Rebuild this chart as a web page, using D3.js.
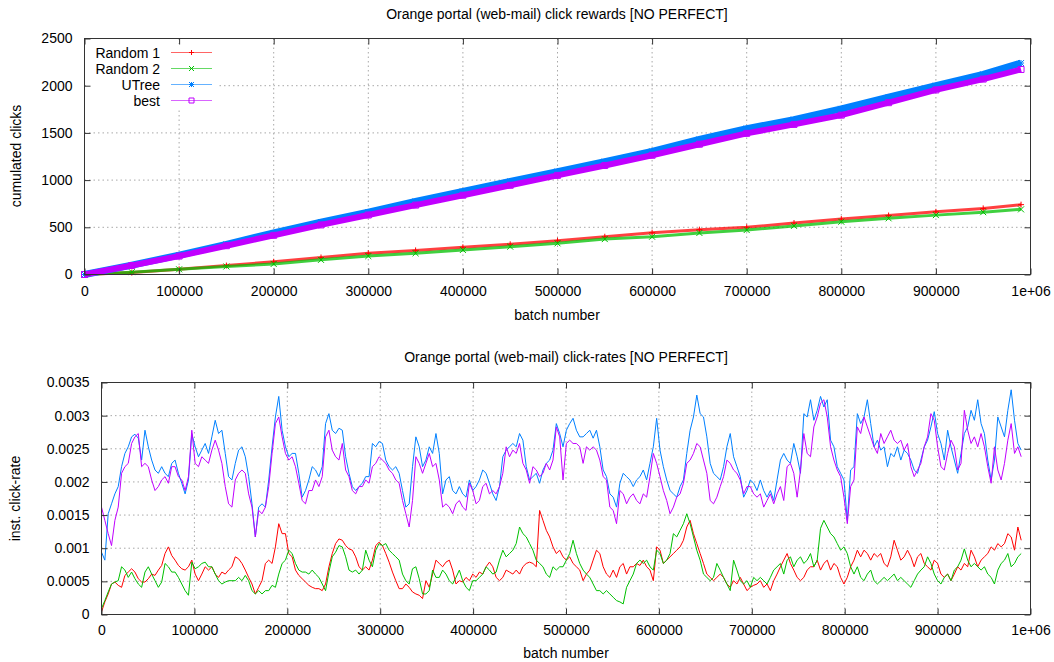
<!DOCTYPE html>
<html><head><meta charset="utf-8">
<script src="https://cdn.jsdelivr.net/npm/d3@7"></script>
<style>
body{margin:0;background:#fff}
svg{display:block}
text{font-family:"Liberation Sans",Arial,sans-serif;fill:#000}
</style>
</head><body>
<svg id="chart" width="1054" height="662"></svg>
<script>
// ---------- DATA ----------
const seriesNames = ["Random 1", "Random 2", "UTree", "best"];
const seriesColors = ["#ff0000", "#00c000", "#0080ff", "#c000ff"];
const xTickValues = [0,100000,200000,300000,400000,500000,600000,700000,800000,900000,1000000];
const xTickLabels = ["0","100000","200000","300000","400000","500000","600000","700000","800000","900000","1e+06"];
const cumTickValues = [0,500,1000,1500,2000,2500];
const cumTickLabels = ["0","500","1000","1500","2000","2500"];
const rateTickValues = [0,0.0005,0.001,0.0015,0.002,0.0025,0.003,0.0035];
const rateTickLabels = ["0","0.0005","0.001","0.0015","0.002","0.0025","0.003","0.0035"];

// cumulated clicks (top panel)
const cumBatch = [0,50000,100000,150000,200000,250000,300000,350000,400000,450000,500000,550000,600000,650000,700000,750000,800000,850000,900000,950000,990000];
const random1Cum = [0,20,55,95,135,180,225,255,288,320,358,400,443,475,500,545,587,625,664,700,740];
const random2Cum = [0,25,55,85,112,155,195,225,260,295,330,375,400,440,471,515,559,595,629,660,690];
const utreeCum = [0,100,205,320,440,555,660,775,880,985,1090,1195,1305,1430,1545,1640,1755,1880,2000,2120,2240];
const bestCum = [0,95,195,305,415,525,630,735,840,945,1050,1155,1263,1380,1495,1590,1688,1820,1955,2070,2172];

// instantaneous click-rates (bottom panel), sampled every 3600 batches from 0 to 990000
const rateBatch = d3.range(0, 990001, 3600);
const random1Rate = [4e-5,19e-5,31e-5,46e-5,49e-5,44e-5,41e-5,59e-5,64e-5,69e-5,64e-5,54e-5,49e-5,49e-5,54e-5,61e-5,59e-5,67e-5,74e-5,92e-5,102e-5,89e-5,82e-5,74e-5,69e-5,67e-5,72e-5,82e-5,61e-5,51e-5,61e-5,72e-5,67e-5,72e-5,61e-5,56e-5,64e-5,61e-5,67e-5,72e-5,87e-5,84e-5,77e-5,67e-5,56e-5,46e-5,31e-5,41e-5,51e-5,77e-5,82e-5,77e-5,102e-5,137e-5,122e-5,122e-5,92e-5,87e-5,67e-5,59e-5,54e-5,49e-5,44e-5,41e-5,39e-5,39e-5,36e-5,46e-5,72e-5,92e-5,107e-5,114e-5,112e-5,104e-5,99e-5,97e-5,87e-5,72e-5,67e-5,72e-5,67e-5,82e-5,104e-5,109e-5,104e-5,92e-5,79e-5,64e-5,51e-5,39e-5,39e-5,46e-5,41e-5,34e-5,31e-5,29e-5,
24e-5,51e-5,41e-5,61e-5,82e-5,77e-5,72e-5,79e-5,82e-5,67e-5,46e-5,51e-5,49e-5,56e-5,51e-5,61e-5,56e-5,64e-5,61e-5,72e-5,79e-5,72e-5,56e-5,51e-5,56e-5,67e-5,64e-5,61e-5,67e-5,61e-5,72e-5,77e-5,79e-5,77e-5,72e-5,157e-5,142e-5,127e-5,117e-5,102e-5,92e-5,97e-5,87e-5,82e-5,87e-5,77e-5,72e-5,67e-5,51e-5,61e-5,67e-5,82e-5,97e-5,92e-5,72e-5,61e-5,56e-5,67e-5,56e-5,72e-5,77e-5,61e-5,72e-5,72e-5,77e-5,74e-5,82e-5,72e-5,67e-5,51e-5,102e-5,97e-5,77e-5,82e-5,87e-5,92e-5,97e-5,102e-5,112e-5,132e-5,142e-5,122e-5,107e-5,92e-5,77e-5,61e-5,56e-5,51e-5,56e-5,61e-5,56e-5,46e-5,41e-5,
51e-5,46e-5,56e-5,46e-5,36e-5,41e-5,44e-5,46e-5,51e-5,41e-5,46e-5,36e-5,51e-5,61e-5,72e-5,82e-5,92e-5,77e-5,67e-5,56e-5,51e-5,56e-5,67e-5,72e-5,72e-5,82e-5,67e-5,77e-5,82e-5,67e-5,77e-5,72e-5,56e-5,46e-5,56e-5,72e-5,82e-5,97e-5,87e-5,97e-5,92e-5,82e-5,92e-5,87e-5,92e-5,77e-5,72e-5,87e-5,112e-5,97e-5,82e-5,87e-5,97e-5,87e-5,72e-5,87e-5,92e-5,77e-5,72e-5,67e-5,82e-5,77e-5,61e-5,56e-5,61e-5,51e-5,61e-5,72e-5,67e-5,77e-5,72e-5,97e-5,87e-5,72e-5,82e-5,87e-5,92e-5,102e-5,97e-5,107e-5,102e-5,107e-5,122e-5,117e-5,97e-5,132e-5,112e-5];
const random2Rate = [9e-5,21e-5,34e-5,46e-5,49e-5,51e-5,72e-5,67e-5,56e-5,64e-5,54e-5,46e-5,41e-5,64e-5,72e-5,61e-5,51e-5,41e-5,49e-5,77e-5,72e-5,64e-5,64e-5,56e-5,46e-5,36e-5,29e-5,79e-5,69e-5,72e-5,77e-5,79e-5,72e-5,72e-5,61e-5,51e-5,46e-5,49e-5,51e-5,51e-5,51e-5,56e-5,51e-5,59e-5,51e-5,36e-5,31e-5,36e-5,31e-5,36e-5,36e-5,44e-5,41e-5,61e-5,77e-5,82e-5,97e-5,92e-5,77e-5,67e-5,64e-5,64e-5,61e-5,67e-5,61e-5,56e-5,46e-5,36e-5,64e-5,87e-5,94e-5,104e-5,102e-5,87e-5,67e-5,64e-5,67e-5,61e-5,67e-5,97e-5,82e-5,72e-5,97e-5,107e-5,104e-5,107e-5,97e-5,92e-5,87e-5,82e-5,61e-5,51e-5,46e-5,69e-5,72e-5,54e-5,
31e-5,31e-5,36e-5,67e-5,56e-5,56e-5,67e-5,61e-5,51e-5,46e-5,56e-5,67e-5,51e-5,41e-5,36e-5,51e-5,51e-5,56e-5,61e-5,72e-5,67e-5,61e-5,64e-5,82e-5,97e-5,87e-5,92e-5,97e-5,107e-5,132e-5,122e-5,117e-5,107e-5,97e-5,82e-5,77e-5,72e-5,61e-5,56e-5,72e-5,67e-5,72e-5,72e-5,82e-5,92e-5,112e-5,92e-5,77e-5,67e-5,61e-5,56e-5,46e-5,36e-5,36e-5,31e-5,36e-5,31e-5,26e-5,21e-5,19e-5,16e-5,41e-5,51e-5,61e-5,77e-5,82e-5,77e-5,82e-5,72e-5,67e-5,97e-5,92e-5,77e-5,82e-5,92e-5,122e-5,117e-5,127e-5,137e-5,152e-5,137e-5,117e-5,97e-5,82e-5,61e-5,56e-5,51e-5,56e-5,77e-5,67e-5,56e-5,46e-5,36e-5,
82e-5,67e-5,51e-5,46e-5,51e-5,41e-5,56e-5,51e-5,56e-5,51e-5,46e-5,56e-5,67e-5,72e-5,77e-5,61e-5,82e-5,87e-5,72e-5,82e-5,87e-5,77e-5,82e-5,92e-5,72e-5,82e-5,130e-5,142e-5,132e-5,122e-5,117e-5,107e-5,97e-5,102e-5,92e-5,72e-5,61e-5,72e-5,56e-5,51e-5,61e-5,67e-5,51e-5,46e-5,51e-5,56e-5,51e-5,56e-5,61e-5,51e-5,56e-5,51e-5,46e-5,41e-5,51e-5,61e-5,67e-5,72e-5,87e-5,77e-5,61e-5,51e-5,46e-5,56e-5,61e-5,51e-5,67e-5,72e-5,82e-5,99e-5,82e-5,72e-5,77e-5,72e-5,67e-5,72e-5,61e-5,56e-5,46e-5,67e-5,77e-5,82e-5,92e-5,72e-5,77e-5,87e-5,92e-5];
const utreeRate = [94e-5,82e-5,152e-5,167e-5,182e-5,193e-5,223e-5,243e-5,253e-5,268e-5,272e-5,266e-5,233e-5,278e-5,253e-5,233e-5,218e-5,213e-5,223e-5,213e-5,208e-5,228e-5,233e-5,213e-5,198e-5,182e-5,203e-5,273e-5,253e-5,238e-5,248e-5,258e-5,243e-5,268e-5,293e-5,273e-5,278e-5,243e-5,208e-5,203e-5,228e-5,248e-5,253e-5,238e-5,208e-5,167e-5,117e-5,162e-5,167e-5,162e-5,203e-5,253e-5,298e-5,329e-5,278e-5,253e-5,238e-5,243e-5,243e-5,213e-5,177e-5,187e-5,203e-5,223e-5,218e-5,208e-5,223e-5,288e-5,303e-5,278e-5,273e-5,281e-5,278e-5,238e-5,213e-5,193e-5,187e-5,193e-5,198e-5,208e-5,208e-5,258e-5,253e-5,261e-5,258e-5,233e-5,223e-5,218e-5,223e-5,213e-5,187e-5,162e-5,167e-5,223e-5,268e-5,253e-5,
223e-5,233e-5,253e-5,243e-5,273e-5,243e-5,182e-5,203e-5,208e-5,187e-5,182e-5,193e-5,182e-5,177e-5,203e-5,187e-5,193e-5,203e-5,218e-5,213e-5,198e-5,182e-5,172e-5,193e-5,238e-5,248e-5,253e-5,258e-5,253e-5,273e-5,263e-5,223e-5,203e-5,208e-5,213e-5,198e-5,218e-5,228e-5,233e-5,248e-5,288e-5,273e-5,253e-5,278e-5,288e-5,296e-5,278e-5,268e-5,268e-5,273e-5,278e-5,266e-5,278e-5,253e-5,218e-5,208e-5,182e-5,177e-5,162e-5,198e-5,213e-5,208e-5,203e-5,193e-5,203e-5,208e-5,218e-5,203e-5,228e-5,253e-5,296e-5,248e-5,223e-5,203e-5,187e-5,182e-5,177e-5,193e-5,203e-5,243e-5,278e-5,298e-5,331e-5,303e-5,298e-5,268e-5,228e-5,213e-5,208e-5,203e-5,223e-5,253e-5,273e-5,
238e-5,223e-5,208e-5,177e-5,187e-5,203e-5,198e-5,187e-5,203e-5,187e-5,177e-5,187e-5,172e-5,203e-5,233e-5,243e-5,233e-5,228e-5,258e-5,238e-5,213e-5,303e-5,298e-5,324e-5,293e-5,308e-5,329e-5,313e-5,324e-5,263e-5,253e-5,223e-5,213e-5,203e-5,142e-5,218e-5,223e-5,303e-5,288e-5,298e-5,324e-5,288e-5,253e-5,263e-5,248e-5,253e-5,223e-5,243e-5,238e-5,253e-5,233e-5,248e-5,243e-5,233e-5,218e-5,213e-5,233e-5,253e-5,263e-5,283e-5,306e-5,273e-5,258e-5,233e-5,278e-5,253e-5,233e-5,213e-5,243e-5,273e-5,283e-5,308e-5,293e-5,324e-5,288e-5,273e-5,233e-5,203e-5,233e-5,298e-5,283e-5,268e-5,308e-5,339e-5,293e-5,258e-5,248e-5];
const bestRate = [162e-5,142e-5,122e-5,104e-5,142e-5,162e-5,213e-5,223e-5,228e-5,258e-5,268e-5,273e-5,223e-5,228e-5,223e-5,203e-5,187e-5,193e-5,203e-5,208e-5,198e-5,223e-5,223e-5,208e-5,203e-5,187e-5,208e-5,278e-5,228e-5,223e-5,238e-5,233e-5,228e-5,248e-5,263e-5,248e-5,228e-5,193e-5,167e-5,162e-5,203e-5,213e-5,218e-5,213e-5,182e-5,162e-5,117e-5,157e-5,152e-5,162e-5,193e-5,243e-5,288e-5,298e-5,268e-5,243e-5,233e-5,238e-5,223e-5,198e-5,172e-5,167e-5,187e-5,187e-5,203e-5,193e-5,208e-5,268e-5,278e-5,248e-5,238e-5,233e-5,258e-5,218e-5,208e-5,187e-5,182e-5,193e-5,193e-5,203e-5,198e-5,223e-5,228e-5,238e-5,233e-5,228e-5,218e-5,213e-5,203e-5,198e-5,172e-5,152e-5,132e-5,172e-5,238e-5,228e-5,
213e-5,228e-5,243e-5,223e-5,228e-5,203e-5,162e-5,167e-5,162e-5,152e-5,167e-5,172e-5,162e-5,157e-5,198e-5,187e-5,167e-5,172e-5,193e-5,198e-5,182e-5,187e-5,182e-5,193e-5,213e-5,253e-5,238e-5,248e-5,243e-5,258e-5,228e-5,218e-5,198e-5,223e-5,218e-5,208e-5,213e-5,228e-5,218e-5,233e-5,283e-5,268e-5,203e-5,258e-5,263e-5,258e-5,258e-5,253e-5,228e-5,253e-5,248e-5,253e-5,248e-5,233e-5,208e-5,203e-5,162e-5,157e-5,137e-5,187e-5,182e-5,167e-5,177e-5,182e-5,172e-5,167e-5,182e-5,177e-5,208e-5,243e-5,228e-5,208e-5,187e-5,172e-5,152e-5,162e-5,177e-5,182e-5,198e-5,228e-5,233e-5,243e-5,258e-5,253e-5,233e-5,213e-5,172e-5,167e-5,177e-5,193e-5,208e-5,233e-5,228e-5,
218e-5,213e-5,203e-5,182e-5,193e-5,193e-5,182e-5,177e-5,182e-5,162e-5,172e-5,182e-5,167e-5,182e-5,193e-5,172e-5,223e-5,228e-5,213e-5,177e-5,218e-5,273e-5,243e-5,238e-5,283e-5,298e-5,319e-5,324e-5,298e-5,253e-5,233e-5,218e-5,208e-5,177e-5,137e-5,193e-5,203e-5,283e-5,273e-5,298e-5,283e-5,268e-5,253e-5,243e-5,273e-5,258e-5,268e-5,278e-5,263e-5,258e-5,263e-5,248e-5,258e-5,223e-5,208e-5,218e-5,228e-5,253e-5,268e-5,303e-5,293e-5,253e-5,223e-5,218e-5,243e-5,263e-5,253e-5,218e-5,228e-5,308e-5,278e-5,258e-5,268e-5,253e-5,273e-5,253e-5,223e-5,198e-5,253e-5,218e-5,203e-5,228e-5,263e-5,288e-5,243e-5,253e-5,238e-5];

// ---------- DRAWING ----------
const svg = d3.select("#chart");
const FS = 14;

function markerPath(kind, s) {
  if (kind === "plus") return `M${-s},0H${s}M0,${-s}V${s}`;
  if (kind === "cross") return `M${-s},${-s}L${s},${s}M${-s},${s}L${s},${-s}`;
  if (kind === "star") return `M${-s},0H${s}M0,${-s}V${s}M${-s},${-s}L${s},${s}M${-s},${s}L${s},${-s}`;
  return `M${-s},${-s}H${s}V${s}H${-s}Z`;
}
const markerKinds = ["plus", "cross", "star", "square"];

function frame(g, x, y, yTicks, L, R, T, B) {
  const grid = g.append("g").attr("stroke", "#a8a8a8").attr("stroke-width", 1).attr("stroke-dasharray", "1.5,3");
  xTickValues.slice(1, -1).forEach(v => {
    grid.append("line").attr("x1", x(v)).attr("x2", x(v)).attr("y1", T).attr("y2", B);
  });
  yTicks.slice(1, -1).forEach(v => {
    grid.append("line").attr("x1", L).attr("x2", R).attr("y1", y(v)).attr("y2", y(v));
  });
}

function axes(g, x, y, yTicks, yLabels, L, R, T, B, xPad) {
  const ax = (sel) => { sel.select(".domain").remove(); sel.selectAll("line").attr("stroke", "#333"); sel.selectAll("text").attr("font-size", FS).attr("font-family", "Liberation Sans, Arial, sans-serif").attr("fill", "#000"); };
  g.append("g").attr("transform", `translate(0,${B})`)
    .call(d3.axisBottom(x).tickValues(xTickValues).tickFormat((d, i) => xTickLabels[i]).tickSize(-6).tickPadding(xPad)).call(ax);
  g.append("g").attr("transform", `translate(0,${T})`)
    .call(d3.axisTop(x).tickValues(xTickValues).tickFormat("").tickSize(-6)).call(ax);
  g.append("g").attr("transform", `translate(${L},0)`)
    .call(d3.axisLeft(y).tickValues(yTicks).tickFormat((d, i) => yLabels[i]).tickSize(-6).tickPadding(12)).call(ax);
  g.append("g").attr("transform", `translate(${R},0)`)
    .call(d3.axisRight(y).tickValues(yTicks).tickFormat("").tickSize(-6)).call(ax);
  g.append("rect").attr("x", L).attr("y", T).attr("width", R - L).attr("height", B - T)
    .attr("fill", "none").attr("stroke", "#333").attr("stroke-width", 1);
}

// ----- top panel -----
{
  const L = 84.5, R = 1030.5, T = 38.5, B = 274.5;
  const x = d3.scaleLinear().domain([0, 1000000]).range([L, R]);
  const y = d3.scaleLinear().domain([0, 2500]).range([B, T]);
  const g = svg.append("g");
  frame(g, x, y, cumTickValues, L, R, T, B);

  const cumSeries = [random1Cum, random2Cum, utreeCum, bestCum];
  const bandW = [3, 3, 7, 6];
  const line = d3.line().x((d, i) => x(cumBatch[i])).y(d => y(d));
  cumSeries.forEach((vals, si) => {
    const c = seriesColors[si];
    g.append("path").attr("d", line(vals)).attr("fill", "none").attr("stroke", c)
      .attr("stroke-width", bandW[si]).attr("stroke-linejoin", "round").attr("opacity", si < 2 ? 0.75 : 1);
    g.append("g").selectAll("path").data(vals).join("path")
      .attr("transform", (d, i) => `translate(${x(cumBatch[i])},${y(d)})`)
      .attr("d", markerPath(markerKinds[si], 3))
      .attr("fill", "none").attr("stroke", c).attr("stroke-width", 1);
  });

  // legend
  const lg = g.append("g");
  lg.append("rect").attr("x", 86).attr("y", 44).attr("width", 132).attr("height", 64).attr("fill", "#fff");
  seriesNames.forEach((name, i) => {
    const cy = 52.5 + i * 16;
    lg.append("text").attr("x", 160).attr("y", cy + 5).attr("text-anchor", "end").attr("font-size", FS).text(name);
    lg.append("line").attr("x1", 171).attr("x2", 212).attr("y1", cy).attr("y2", cy)
      .attr("stroke", seriesColors[i]).attr("stroke-width", 1.2).attr("opacity", 0.6);
    lg.append("path").attr("transform", `translate(191.5,${cy})`).attr("d", markerPath(markerKinds[i], 2.5))
      .attr("fill", "none").attr("stroke", seriesColors[i]).attr("stroke-width", 1);
  });

  axes(g, x, y, cumTickValues, cumTickLabels, L, R, T, B, 12);

  svg.append("text").attr("x", 557).attr("y", 19).attr("text-anchor", "middle").attr("font-size", FS)
    .text("Orange portal (web-mail) click rewards [NO PERFECT]");
  svg.append("text").attr("x", 557).attr("y", 320).attr("text-anchor", "middle").attr("font-size", FS).text("batch number");
  svg.append("text").attr("transform", "translate(20.5,156) rotate(-90)").attr("text-anchor", "middle")
    .attr("font-size", FS).text("cumulated clicks");
}

// ----- bottom panel -----
{
  const L = 101.5, R = 1030.5, T = 382.5, B = 614.5;
  const x = d3.scaleLinear().domain([0, 1000000]).range([L, R]);
  const y = d3.scaleLinear().domain([0, 0.0035]).range([B, T]);
  const g = svg.append("g");
  frame(g, x, y, rateTickValues, L, R, T, B);

  const rateSeries = [random1Rate, random2Rate, utreeRate, bestRate];
  const line = d3.line().x((d, i) => x(rateBatch[i])).y(d => y(d));
  rateSeries.forEach((vals, si) => {
    g.append("path").attr("d", line(vals)).attr("fill", "none")
      .attr("stroke", seriesColors[si]).attr("stroke-width", 1).attr("stroke-linejoin", "round");
  });

  axes(g, x, y, rateTickValues, rateTickLabels, L, R, T, B, 10.5);

  svg.append("text").attr("x", 566).attr("y", 361.5).attr("text-anchor", "middle").attr("font-size", FS)
    .text("Orange portal (web-mail) click-rates [NO PERFECT]");
  svg.append("text").attr("x", 566).attr("y", 658).attr("text-anchor", "middle").attr("font-size", FS).text("batch number");
  svg.append("text").attr("transform", "translate(20,498.5) rotate(-90)").attr("text-anchor", "middle")
    .attr("font-size", FS).text("inst. click-rate");
}
</script>
</body></html>
